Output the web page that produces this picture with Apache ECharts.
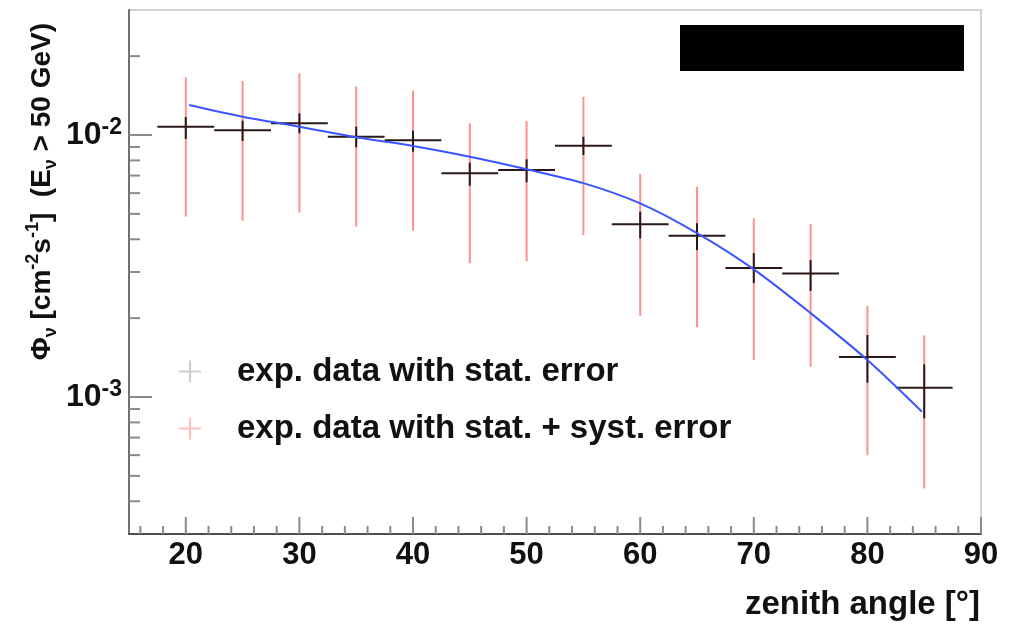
<!DOCTYPE html>
<html>
<head>
<meta charset="utf-8">
<script src="https://cdn.jsdelivr.net/npm/echarts@6/dist/echarts.min.js"></script>
<style>
  html, body { margin: 0; padding: 0; background: #fff; }
  #chart { width: 1013px; height: 624px; }
</style>
</head>
<body>
<div id="chart"></div>
<script>
// Neutrino flux above 50 GeV versus zenith angle (5-degree bins)
const angles = [20, 25, 30, 35, 40, 45, 50, 55, 60, 65, 70, 75, 80, 85];
const halfBin = 2.5;
const flux = [0.01076, 0.01042, 0.0111, 0.00985, 0.00954, 0.00714, 0.00735, 0.0091, 0.00456, 0.00413, 0.00311, 0.00296, 0.00142, 0.001085];
// statistical error band (lower / upper edge)
const statLow  = [0.00966, 0.00949, 0.01015, 0.00898, 0.00864, 0.0064, 0.0066, 0.00839, 0.00403, 0.00364, 0.00272, 0.00254, 0.001134, 0.000829];
const statHigh = [0.01171, 0.01134, 0.0121, 0.01076, 0.01038, 0.00784, 0.00808, 0.00985, 0.0051, 0.0046, 0.00354, 0.00333, 0.001724, 0.001333];
// statistical + systematic error band
const systLow  = [0.00488, 0.00471, 0.00505, 0.00447, 0.00431, 0.00324, 0.0033, 0.00415, 0.00204, 0.001845, 0.001384, 0.001305, 0.0006, 0.000448];
const systHigh = [0.0166, 0.01607, 0.0172, 0.0153, 0.01476, 0.01108, 0.0113, 0.0140, 0.0071, 0.00635, 0.00481, 0.00457, 0.002225, 0.00172];
// model curve
const fitAngles = [20.3, 25, 30, 35, 40, 45, 50, 55, 60, 65, 70, 75, 80, 84.8];
const fitFlux = [0.01302, 0.01175, 0.01076, 0.0098, 0.00908, 0.00826, 0.0074, 0.00655, 0.00548, 0.00422, 0.00307, 0.00209, 0.001384, 0.000879];

// axis ranges and tick values
const xRange = [15, 90];
const yRange = [0.0003, 0.03];
const xMajorTicks = [20, 30, 40, 50, 60, 70, 80, 90];
const xMinorTicks = [16, 18, 22, 24, 26, 28, 32, 34, 36, 38, 42, 44, 46, 48, 52, 54, 56, 58, 62, 64, 66, 68, 72, 74, 76, 78, 82, 84, 86, 88];
const yMajorTicks = [0.001, 0.01];
const yMinorTicks = [0.0004, 0.0005, 0.0006, 0.0007, 0.0008, 0.0009, 0.002, 0.003, 0.004, 0.005, 0.006, 0.007, 0.008, 0.009, 0.02];

const statName = 'exp. data with stat. error';
const systName = 'exp. data with stat. + syst. error';

const FONT = '"Liberation Sans", Arial, Helvetica, sans-serif';
const plusIcon = 'path://M0,9L20,9L20,11L0,11Z M9,0L11,0L11,20L9,20Z';

const chart = echarts.init(document.getElementById('chart'), null, { renderer: 'canvas' });

function tickSeries(values, horizontal, len) {
  return {
    type: 'custom',
    silent: true,
    z: 1,
    data: values.map(v => horizontal ? [xRange[0], v] : [v, yRange[0]]),
    renderItem: function (params, api) {
      const p = api.coord([api.value(0), api.value(1)]);
      const shape = horizontal
        ? { x1: p[0], y1: p[1], x2: p[0] + len, y2: p[1] }
        : { x1: p[0], y1: p[1], x2: p[0], y2: p[1] - len };
      return { type: 'line', shape: shape, style: { stroke: '#8a8a8a', lineWidth: 2 } };
    }
  };
}

const option = {
  backgroundColor: '#fff',
  animation: false,
  grid: {
    left: 129, top: 10, width: 852, height: 524,
    show: true, borderColor: '#d2d2d2', borderWidth: 2, backgroundColor: '#fff'
  },
  legend: {
    orient: 'vertical',
    left: 174, top: 350,
    itemWidth: 84, itemHeight: 22, itemGap: 24,
    textStyle: { fontFamily: FONT, fontSize: 33, fontWeight: 'bold', color: '#111', lineHeight: 33 },
    data: [
      { name: statName, icon: plusIcon, itemStyle: { color: '#cfcfcf' } },
      { name: systName, icon: plusIcon, itemStyle: { color: '#ffc2c2' } }
    ]
  },
  xAxis: {
    type: 'value',
    min: xRange[0], max: xRange[1], interval: 5,
    axisLine: { onZero: false, lineStyle: { color: '#505050', width: 2 } },
    axisTick: { show: false },
    splitLine: { show: false },
    axisLabel: {
      margin: 6,
      fontFamily: FONT, fontSize: 31, fontWeight: 'bold', color: '#111',
      formatter: v => (Math.round(v) % 10 === 0 && v >= 20) ? String(Math.round(v)) : ''
    }
  },
  yAxis: {
    type: 'log', logBase: 10,
    min: yRange[0], max: yRange[1],
    axisLine: { lineStyle: { color: '#707070', width: 2 } },
    axisTick: { show: false },
    splitLine: { show: false },
    axisLabel: {
      margin: 7,
      formatter: function (v) {
        const e = Math.log10(v);
        const r = Math.round(e);
        if (Math.abs(e - r) > 1e-6) return '';
        return '{n|10}{s|' + r + '}';
      },
      rich: {
        n: { fontFamily: FONT, fontSize: 32, fontWeight: 'bold', color: '#111', lineHeight: 38 },
        s: { fontFamily: FONT, fontSize: 23, fontWeight: 'bold', color: '#111', lineHeight: 16, verticalAlign: 'top' }
      }
    }
  },
  graphic: [
    {
      type: 'rect', left: 680, top: 25, z: 100,
      shape: { width: 284, height: 46 },
      style: { fill: '#000' }
    },
    {
      type: 'text', x: 980, y: 605, z: 100,
      style: {
        text: 'zenith angle [°]', align: 'right', verticalAlign: 'middle',
        fontFamily: FONT, fontSize: 33, fontWeight: 'bold', fill: '#111'
      }
    },
    {
      type: 'text', x: 42, y: 23, rotation: Math.PI / 2, z: 100,
      style: {
        text: '{m|Φ}{sub|ν}{m| [cm}{sup|-2}{m|s}{sup|-1}{m|]  (E}{sub|ν}{m| > 50 GeV)}',
        align: 'right', verticalAlign: 'middle',
        rich: {
          m: { fontFamily: FONT, fontSize: 28, fontWeight: 'bold', fill: '#111', lineHeight: 36 },
          sup: { fontFamily: FONT, fontSize: 18, fontWeight: 'bold', fill: '#111', lineHeight: 14, verticalAlign: 'top' },
          sub: { fontFamily: FONT, fontSize: 18, fontWeight: 'bold', fill: '#111', lineHeight: 14, verticalAlign: 'bottom' }
        }
      }
    }
  ],
  series: [
    tickSeries(xMajorTicks, false, 17),
    tickSeries(xMinorTicks, false, 8),
    tickSeries(yMajorTicks, true, 23),
    tickSeries(yMinorTicks, true, 11),
    {
      name: systName,
      type: 'custom',
      z: 2,
      encode: { x: 0, y: [1, 2] },
      data: angles.map((a, i) => [a, systLow[i], systHigh[i]]),
      renderItem: function (params, api) {
        const lo = api.coord([api.value(0), api.value(1)]);
        const hi = api.coord([api.value(0), api.value(2)]);
        return {
          type: 'line',
          shape: { x1: lo[0], y1: lo[1], x2: hi[0], y2: hi[1] },
          style: { stroke: '#ff9090', lineWidth: 2 }
        };
      }
    },
    {
      name: statName,
      type: 'custom',
      z: 3,
      encode: { x: 0, y: [1, 2, 3] },
      data: angles.map((a, i) => [a, flux[i], statLow[i], statHigh[i]]),
      renderItem: function (params, api) {
        const a = api.value(0);
        const f = api.value(1);
        const lo = api.coord([a, api.value(2)]);
        const hi = api.coord([a, api.value(3)]);
        const l = api.coord([a - halfBin, f]);
        const r = api.coord([a + halfBin, f]);
        const style = { stroke: '#2a1818', lineWidth: 2 };
        return {
          type: 'group',
          children: [
            { type: 'line', shape: { x1: lo[0], y1: lo[1], x2: hi[0], y2: hi[1] }, style: style },
            { type: 'line', shape: { x1: l[0], y1: l[1], x2: r[0], y2: r[1] }, style: style }
          ]
        };
      }
    },
    {
      name: 'fit',
      type: 'line',
      z: 4,
      smooth: 0.3,
      showSymbol: false,
      symbol: 'none',
      lineStyle: { color: '#3a55ff', width: 2 },
      data: fitAngles.map((a, i) => [a, fitFlux[i]])
    }
  ]
};

chart.setOption(option);
</script>
</body>
</html>
